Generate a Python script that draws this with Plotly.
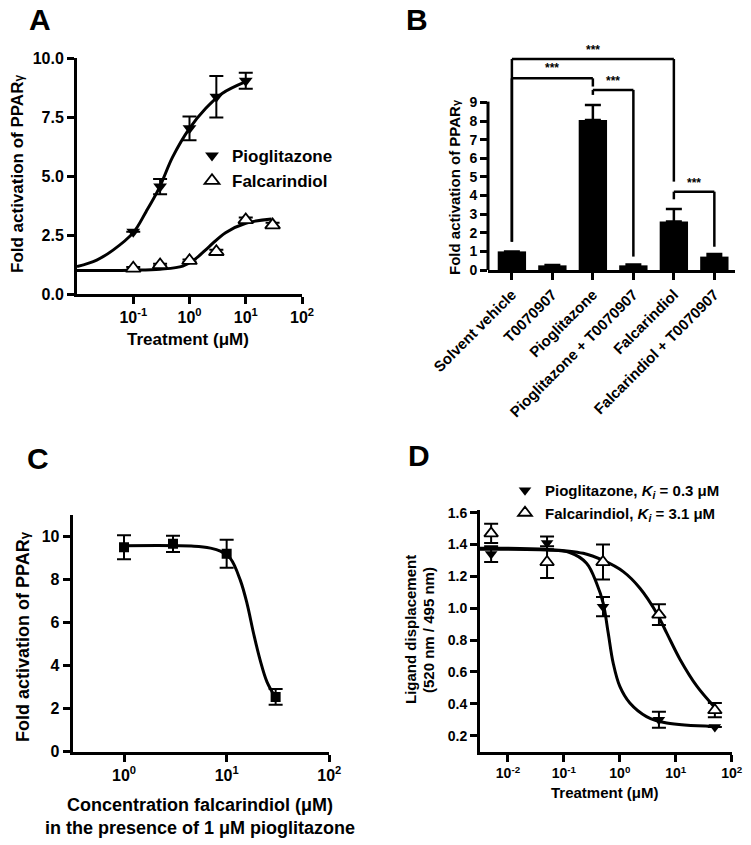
import plotly.graph_objects as go

W, H = 751, 845

# ---- Panel A: PPARgamma transactivation, dose response
a_pio_conc = [0.1, 0.3, 1, 3, 10]
a_pio = [2.64, 4.55, 7.02, 8.36, 9.04]
a_pio_err = [0.0, 0.32, 0.5, 0.88, 0.34]
a_falc_conc = [0.1, 0.3, 1, 3, 10, 30]
a_falc = [1.09, 1.23, 1.41, 1.79, 3.14, 2.92]
a_falc_err = [0.05, 0.05, 0.05, 0.08, 0.1, 0.1]
# fitted curves
a_pio_fit_x = [0.01, 0.0224, 0.0437, 0.1, 0.17, 0.29, 0.5, 1.0, 1.95, 3.8, 10]
a_pio_fit_y = [1.16, 1.44, 1.86, 2.6, 3.5, 4.5, 5.8, 7.02, 7.87, 8.5, 9.0]
a_falc_fit_x = [0.01, 0.1, 0.3, 0.76, 1.29, 2.22, 4.37, 10, 28.8]
a_falc_fit_y = [1.0, 1.01, 1.05, 1.18, 1.5, 2.0, 2.6, 3.0, 3.18]

# ---- Panel B: antagonist T0070907
b_groups = ["Solvent vehicle", "T0070907", "Pioglitazone",
            "Pioglitazone + T0070907", "Falcarindiol", "Falcarindiol + T0070907"]
b_values = [1.0, 0.25, 8.06, 0.25, 2.6, 0.72]
b_err = [0.0, 0.02, 0.81, 0.05, 0.68, 0.14]
# (left bar, right bar, bracket top, left foot, right foot, label y)
b_brackets = [(0, 4, 11.34, 1.52, 4.75, 11.85),
              (0, 2, 10.3, 1.52, 9.86, 10.85),
              (2, 3, 9.68, 9.41, 0.72, 10.15),
              (4, 5, 4.21, 3.8, 1.25, 4.7)]

# ---- Panel C: falcarindiol vs 1 uM pioglitazone
c_conc = [1, 3, 10, 30]
c_vals = [9.5, 9.66, 9.2, 2.54]
c_err = [0.56, 0.38, 0.65, 0.37]
c_fit_x = [1, 4.8, 6.95, 8.69, 10.9, 13.6, 15.8, 18.3, 21.2, 24.7, 29.7]
c_fit_y = [9.57, 9.55, 9.46, 9.32, 8.97, 7.96, 6.88, 5.49, 4.25, 3.24, 2.54]

# ---- Panel D: ligand displacement (TR-FRET)
d_conc = [0.005, 0.05, 0.5, 5, 50]
d_pio = [1.34, 1.41, 1.01, 0.30, 0.255]
d_pio_err = [0.05, 0.04, 0.06, 0.05, 0.0]
d_falc = [1.47, 1.29, 1.29, 0.96, 0.36]
d_falc_err = [0.06, 0.1, 0.11, 0.065, 0.045]
d_pio_fit_x = [0.0031, 0.049, 0.127, 0.254, 0.384, 0.505, 0.62, 0.76, 1.0, 1.51, 3.0, 6.9, 47]
d_pio_fit_y = [1.37, 1.366, 1.35, 1.283, 1.157, 1.03, 0.844, 0.656, 0.509, 0.405, 0.32, 0.279, 0.258]
d_falc_fit_x = [0.0031, 0.049, 0.222, 0.505, 1.15, 2.29, 4.57, 6.9, 12, 24, 48]
d_falc_fit_y = [1.377, 1.37, 1.345, 1.30, 1.23, 1.126, 0.969, 0.844, 0.677, 0.509, 0.384]

FONT = "Liberation Sans, Arial, sans-serif"


def px(x):
    return x / W


def py(y):
    return 1 - y / H


def f(size):
    return dict(family=FONT, size=size, color="black", weight="bold")


def err(vals, w=6):
    return dict(type="data", array=vals, visible=True, color="black", thickness=2, width=w)


fig = go.Figure()

# A
fig.add_trace(go.Scatter(x=a_pio_fit_x, y=a_pio_fit_y, mode="lines", line=dict(color="black", width=3, shape="spline"),
                         showlegend=False, xaxis="x", yaxis="y"))
fig.add_trace(go.Scatter(x=a_falc_fit_x, y=a_falc_fit_y, mode="lines", line=dict(color="black", width=3, shape="spline"),
                         showlegend=False, xaxis="x", yaxis="y"))
fig.add_trace(go.Scatter(x=a_pio_conc, y=a_pio, mode="markers", name="Pioglitazone", error_y=err(a_pio_err, 7),
                         marker=dict(symbol="triangle-down", size=12, color="black"), xaxis="x", yaxis="y",
                         legend="legend"))
fig.add_trace(go.Scatter(x=a_falc_conc, y=a_falc, mode="markers", name="Falcarindiol", error_y=err(a_falc_err, 7),
                         marker=dict(symbol="triangle-up", size=13, color="white", line=dict(color="black", width=1.8)),
                         xaxis="x", yaxis="y", legend="legend"))

# B
fig.add_trace(go.Bar(x=b_groups, y=b_values, marker=dict(color="black", line=dict(width=0)), width=0.7,
                     error_y=dict(type="data", array=b_err, arrayminus=[0] * len(b_err), symmetric=False,
                                  color="black", thickness=2.5, width=8),
                     showlegend=False, xaxis="x2", yaxis="y2"))

# C
fig.add_trace(go.Scatter(x=c_fit_x, y=c_fit_y, mode="lines", line=dict(color="black", width=3, shape="spline"),
                         showlegend=False, xaxis="x3", yaxis="y3"))
fig.add_trace(go.Scatter(x=c_conc, y=c_vals, mode="markers", error_y=err(c_err, 7),
                         marker=dict(symbol="square", size=10, color="black"), showlegend=False,
                         xaxis="x3", yaxis="y3"))

# D
fig.add_trace(go.Scatter(x=d_pio_fit_x, y=d_pio_fit_y, mode="lines", line=dict(color="black", width=3, shape="spline"),
                         showlegend=False, xaxis="x4", yaxis="y4"))
fig.add_trace(go.Scatter(x=d_falc_fit_x, y=d_falc_fit_y, mode="lines", line=dict(color="black", width=3, shape="spline"),
                         showlegend=False, xaxis="x4", yaxis="y4"))
fig.add_trace(go.Scatter(x=d_conc, y=d_pio, mode="markers", name="Pioglitazone, <i>K<sub>i</sub></i> = 0.3 μM",
                         error_y=err(d_pio_err, 7), marker=dict(symbol="triangle-down", size=11, color="black"),
                         xaxis="x4", yaxis="y4", legend="legend2"))
fig.add_trace(go.Scatter(x=d_conc, y=d_falc, mode="markers", name="Falcarindiol, <i>K<sub>i</sub></i> = 3.1 μM",
                         error_y=err(d_falc_err, 7),
                         marker=dict(symbol="triangle-up", size=12, color="white", line=dict(color="black", width=1.8)),
                         xaxis="x4", yaxis="y4", legend="legend2"))


def axis(domain, anchor, size, **kw):
    d = dict(domain=domain, anchor=anchor, showline=True, linecolor="black", linewidth=3,
             ticks="outside", ticklen=7, tickwidth=2.5, tickcolor="black", showgrid=False,
             zeroline=False, tickfont=f(size), fixedrange=True, automargin=False)
    d.update(kw)
    return d


def log_ticks(lo, hi):
    vals = [10 ** k for k in range(lo, hi + 1)]
    text = ["10<sup>%d</sup>" % k for k in range(lo, hi + 1)]
    return vals, text


a_tv, a_tt = log_ticks(-1, 2)
c_tv, c_tt = log_ticks(0, 2)
d_tv, d_tt = log_ticks(-2, 2)

annotations = []


def note(text, x, y, size, angle=0):
    annotations.append(dict(text=text, x=px(x), y=py(y), xref="paper", yref="paper", showarrow=False,
                            font=f(size), textangle=angle, xanchor="center", yanchor="middle"))


def gamma(size):
    return "PPAR<span style='font-size:%dpx'>γ</span>" % size


note("A", 40, 19, 30)
note("B", 417, 19, 30)
note("C", 38, 458, 30)
note("D", 419, 455, 30)
note("Fold activation of " + gamma(12), 17, 174, 17, -90)
note("Treatment (μM)", 188, 339, 17)
note("Fold activation of " + gamma(11), 455, 187, 15, -90)
note("Fold activation of " + gamma(13), 23, 637, 18, -90)
note("Concentration falcarindiol (μM)", 200, 805, 18)
note("in the presence of 1 μM pioglitazone", 200, 828, 18)
note("Ligand displacement", 410, 630, 15, -90)
note("(520 nm / 495 nm)", 428, 630, 15, -90)
note("Treatment (μM)", 605, 792, 15)

shapes = []
# B y axis line only up to 9
shapes.append(dict(type="line", xref="x2 domain", yref="y2", x0=0, x1=0, y0=0, y1=9.05,
                   line=dict(color="black", width=3)))
for lo, hi, top, lfoot, rfoot, ly in b_brackets:
    for x0, y0, x1, y1 in [(lo, top, hi, top), (lo, top, lo, lfoot), (hi, top, hi, rfoot)]:
        shapes.append(dict(type="line", xref="x2", yref="y2", x0=x0, y0=y0, x1=x1, y1=y1,
                           line=dict(color="black", width=2.5)))
    annotations.append(dict(text="***", x=(lo + hi) / 2, y=ly, xref="x2", yref="y2", showarrow=False,
                            font=dict(family=FONT, size=12, color="black")))

fig.update_layout(
    width=W, height=H, margin=dict(l=0, r=0, t=0, b=0, autoexpand=False),
    paper_bgcolor="white", plot_bgcolor="white",
    font=f(15),
    xaxis=axis([px(77), px(302)], "y", 16, type="log", range=[-2, 2], tickvals=a_tv, ticktext=a_tt),
    yaxis=axis([py(294), py(58)], "x", 16, range=[0, 10], tickvals=[0, 2.5, 5, 7.5, 10], tickformat=".1f"),
    xaxis2=axis([px(488), px(735)], "y2", 15, range=[-0.59, 5.51], tickangle=-45),
    yaxis2=axis([py(270), py(43)], "x2", 14, range=[0, 12.2], tickvals=list(range(10)), showline=False),
    xaxis3=axis([px(72.7), px(329.3)], "y3", 16, type="log", range=[-0.5, 2], tickvals=c_tv, ticktext=c_tt),
    yaxis3=axis([py(751.5), py(515)], "x3", 16, range=[0, 11], tickvals=[0, 2, 4, 6, 8, 10]),
    xaxis4=axis([px(480), px(731.7)], "y4", 14, type="log", range=[-2.5, 2], tickvals=d_tv, ticktext=d_tt),
    yaxis4=axis([py(751.6), py(509.5)], "x4", 14, range=[0.1, 1.62],
                tickvals=[0.2, 0.4, 0.6, 0.8, 1.0, 1.2, 1.4, 1.6], tickformat=".1f"),
    legend=dict(x=px(192), y=py(138), xanchor="left", yanchor="top", bgcolor="rgba(0,0,0,0)",
                font=f(17), tracegroupgap=0),
    legend2=dict(x=px(505), y=py(474), xanchor="left", yanchor="top", bgcolor="rgba(0,0,0,0)",
                 font=f(15), tracegroupgap=0),
    annotations=annotations,
    shapes=shapes,
)

# page body has a default 8px margin; drop it so the figure sits at the window origin
fig.write_html("out.html", config={"displayModeBar": False},
               post_script="document.body.style.margin='0';")
